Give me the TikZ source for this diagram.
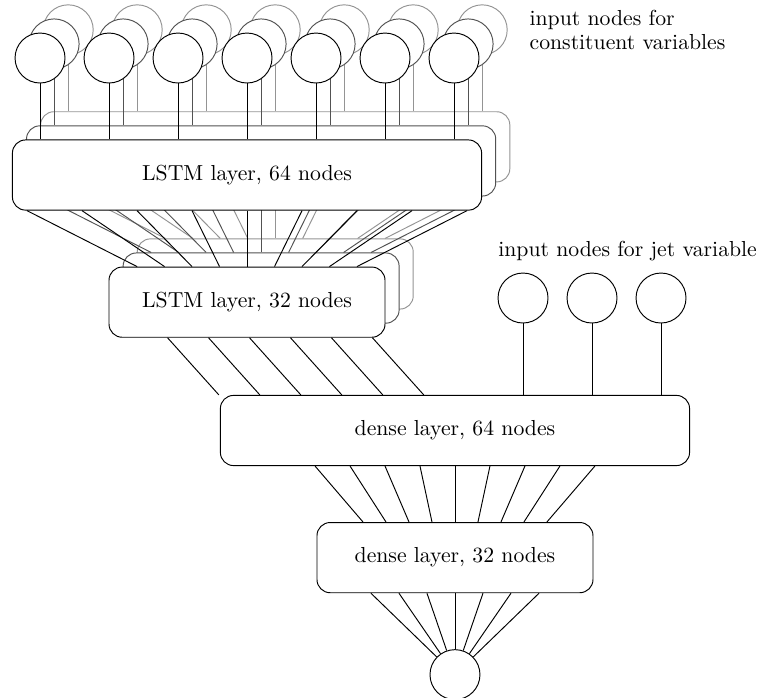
\documentclass[tikz,border=0pt]{standalone}
\usetikzlibrary{positioning}

\begin{document}
\begin{tikzpicture}[
        node distance=0.933cm,
        font=\fontsize{10.3}{11}\selectfont,
        neuron/.style={circle, draw, line width=0.45pt, fill=white, minimum size=0.833cm, inner sep=0pt},
        layer/.style={rectangle, draw, line width=0.45pt, rounded corners=0.22cm, fill=white, minimum height=1.17cm, inner sep=0pt, align=center},
        widelayer/.style={layer, minimum width=7.82cm},
        narrowlayer/.style={layer, minimum width=4.6cm},
        conn/.style={line width=0.45pt},
        note/.style={inner sep=0pt, align=left}
    ]
        \useasboundingbox (0,0) rectangle (12.667,-11.617);

        % Recurrent part, one copy per step, drawn back to front
        \foreach \d/\col in {2/black!42, 1/black!68, 0/black} {
            \begin{scope}[shift={(0.235*\d,0.235*\d)}, color=\col]
                \foreach \i in {0,...,6}
                    \node[neuron] (in\d-\i) at (0.667+1.15*\i,-0.967) {};
                \node[widelayer, below=of in\d-3] (lstmA\d) {\ifnum\d=0 LSTM layer, 64 nodes\fi};
                \node[narrowlayer, below=of lstmA\d] (lstmB\d) {\ifnum\d=0 LSTM layer, 32 nodes\fi};
                \foreach \i in {0,...,6}
                    \draw[conn] (in\d-\i) -- (in\d-\i |- lstmA\d.north);
                \foreach \j in {0,...,8}
                    \draw[conn] ([xshift={(\j-4)*0.917cm}]lstmA\d.south) -- ([xshift={(\j-4)*0.458cm}]lstmB\d.north);
            \end{scope}
        }

        % Dense part
        \node[widelayer] (dense64) at (7.583,-7.175) {dense layer, 64 nodes};
        \node[narrowlayer, below=of dense64] (dense32) {dense layer, 32 nodes};
        \node[neuron, below=of dense32] (out) {};

        \foreach \i in {0,1,2} {
            \node[neuron] (jet\i) at (8.717+1.15*\i,-4.967) {};
            \draw[conn] (jet\i) -- (jet\i |- dense64.north);
        }

        % Connections
        \foreach \k in {0,...,5}
            \draw[conn] ([xshift={0.983cm+\k*0.683cm}]lstmB0.south west) -- ([xshift={-0.017cm+\k*0.683cm}]dense64.north west);
        \foreach \j in {0,...,8}
            \draw[conn] ([xshift={(\j-4)*0.583cm}]dense64.south) -- ([xshift={(\j-4)*0.383cm}]dense32.north);
        \foreach \k in {0,...,6}
            \draw[conn] ([xshift={(\k-3)*0.467cm}]dense32.south) -- (out);

        % Labels
        \node[note, anchor=west] (constlabel) at (8.82,-0.5) {input nodes for\\constituent variables};
        \node[note] (jetlabel) at (10.46,-4.19) {input nodes for jet variable};
    \end{tikzpicture}
\end{document}
